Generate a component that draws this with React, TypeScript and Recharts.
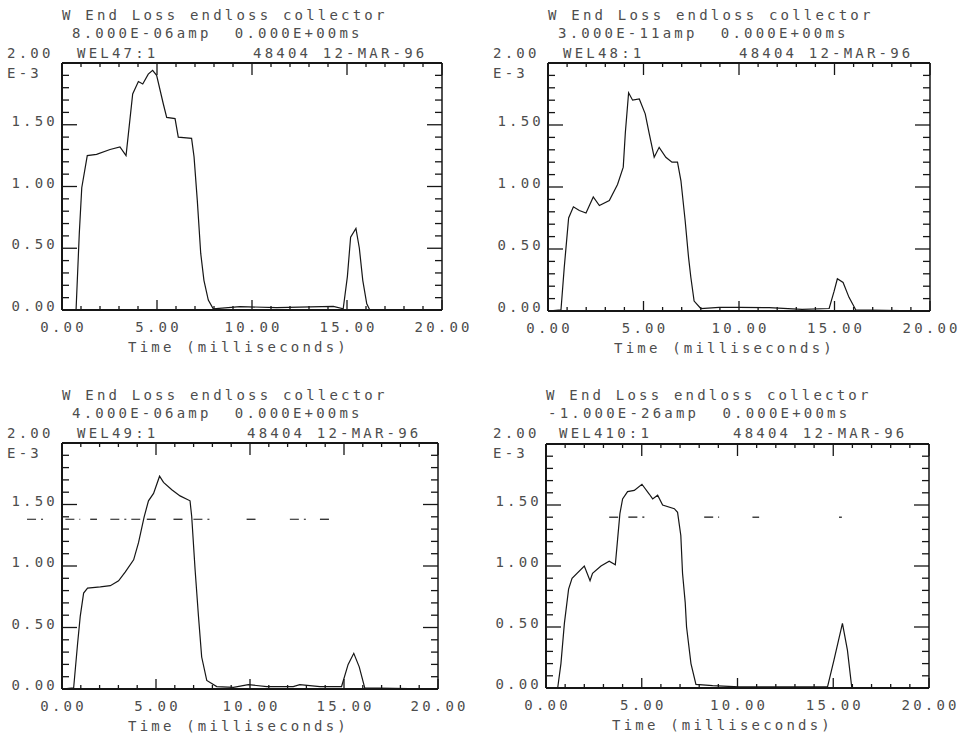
import React from "react";
import { Line, LineChart, ReferenceLine, XAxis, YAxis } from "recharts";

const MONO = "'DejaVu Sans Mono', 'Liberation Mono', monospace";
const INK = "#161616";
const GREY = "#4d4d4d";
const SPACING = 3.2;

// time axis (ms) and current axis (E-3 amp)
const xTicks = [0, 1, 2, 3, 4, 5, 6, 7, 8, 9, 10, 11, 12, 13, 14, 15, 16, 17, 18, 19, 20];
const xLabelTicks = [0, 5, 10, 15, 20];
const yTicks = [
  0, 0.1, 0.2, 0.3, 0.4, 0.5, 0.6, 0.7, 0.8, 0.9, 1, 1.1, 1.2, 1.3, 1.4, 1.5, 1.6, 1.7, 1.8, 1.9, 2,
];
const yLabelTicks = [0, 0.5, 1, 1.5];

// WEL47:1
const wel47Time = [
  0, 0.74, 0.91, 1.04, 1.33, 1.82, 2.53, 3.05, 3.37, 3.49, 3.72, 4.02, 4.25, 4.54, 4.77, 4.98, 5.33,
  5.51, 5.95, 6.12, 6.82, 6.95, 7.12, 7.3, 7.47, 7.7, 7.96, 9.37, 11.3, 14.28, 14.8, 15.02, 15.19,
  15.47, 15.65, 15.83, 16.04, 16.2, 20,
];
const wel47Amp = [
  0, 0, 0.62, 0.99, 1.25, 1.26, 1.3, 1.32, 1.25, 1.42, 1.75, 1.85, 1.83, 1.91, 1.94, 1.9, 1.67, 1.56,
  1.55, 1.4, 1.39, 1.24, 0.89, 0.46, 0.24, 0.08, 0.01, 0.027, 0.02, 0.03, 0.01, 0.27, 0.59, 0.66, 0.5,
  0.24, 0.05, 0, 0,
];

// WEL48:1
const wel48Time = [
  0, 0.68, 0.85, 1.08, 1.33, 1.64, 1.99, 2.37, 2.69, 3.21, 3.64, 3.94, 4.05, 4.22, 4.43, 4.78, 5.09,
  5.3, 5.56, 5.82, 6.17, 6.49, 6.78, 6.96, 7.18, 7.36, 7.48, 7.65, 8.0, 8.96, 10.0, 11.58, 13.3, 14.72,
  14.98, 15.15, 15.45, 15.76, 16.11, 20,
];
const wel48Amp = [
  0, 0.01, 0.35, 0.75, 0.84, 0.81, 0.79, 0.92, 0.85, 0.89, 1.02, 1.16, 1.44, 1.76, 1.7, 1.71, 1.59,
  1.43, 1.24, 1.32, 1.24, 1.2, 1.2, 1.05, 0.73, 0.43, 0.27, 0.08, 0.02, 0.03, 0.03, 0.027, 0.013, 0.02,
  0.16, 0.26, 0.23, 0.11, 0.01, 0,
];

// WEL49:1
const wel49Time = [
  0, 0.62, 0.83, 0.97, 1.15, 1.36, 2.04, 2.57, 3.01, 3.36, 3.81, 4.07, 4.37, 4.6, 4.87, 5.19, 5.4,
  5.84, 6.28, 6.81, 6.9, 7.08, 7.26, 7.43, 7.7, 8.23, 9.12, 9.91, 10.9, 12.3, 12.65, 13.72, 14.87,
  15.22, 15.52, 15.81, 16.1, 20,
];
const wel49Amp = [
  0, 0.01, 0.37, 0.59, 0.78, 0.82, 0.83, 0.84, 0.88, 0.95, 1.05, 1.19, 1.4, 1.53, 1.59, 1.73, 1.68,
  1.62, 1.57, 1.53, 1.4, 0.97, 0.59, 0.26, 0.07, 0.02, 0.014, 0.035, 0.02, 0.02, 0.035, 0.02, 0.02,
  0.2, 0.29, 0.18, 0.01, 0,
];
const wel49GuideLevel = 1.38;
const wel49Guide = [
  [-1.86, -0.88], [0.18, 0.97], [1.5, 1.86], [2.57, 4.16], [4.51, 5.22], [5.93, 6.64],
  [6.99, 7.88], [9.82, 10.53], [12.12, 13.19], [13.72, 14.25],
];

// WEL410:1
const wel410Time = [
  0, 0.61, 0.78, 0.96, 1.18, 1.36, 2.0, 2.3, 2.43, 2.87, 3.3, 3.62, 3.74, 3.86, 4.0, 4.26, 4.61, 5.01,
  5.39, 5.57, 5.83, 6.09, 6.7, 6.87, 7.04, 7.13, 7.27, 7.34, 7.57, 7.83, 8.7, 10.09, 12.52, 14.7,
  15.04, 15.48, 15.74, 15.97, 20,
];
const wel410Amp = [
  0, 0, 0.2, 0.53, 0.81, 0.9, 1.0, 0.88, 0.94, 1.0, 1.04, 1.01, 1.22, 1.43, 1.55, 1.61, 1.62, 1.67,
  1.59, 1.55, 1.58, 1.5, 1.47, 1.44, 1.25, 0.94, 0.7, 0.5, 0.2, 0.03, 0.02, 0.01, 0.01, 0.01, 0.23,
  0.53, 0.31, 0, 0,
];
const wel410GuideLevel = 1.4;
const wel410Guide = [[3.3, 4.0], [4.3, 5.39], [8.26, 9.04], [10.78, 11.13], [15.3, 15.45]];

const textStyle: React.CSSProperties = {
  fontFamily: MONO,
  fontSize: 14,
  fill: GREY,
  letterSpacing: SPACING,
  whiteSpace: "pre",
};

const toRows = (time: number[], amp: number[]) => time.map((t, i) => ({ t, v: amp[i] }));

const isMajorX = (v: number) => v % 5 === 0;
const isMajorY = (v: number) => Math.round(v * 10) % 5 === 0;

// labels only; the tick marks are drawn as reference segments
const BottomLabel = (props: any) => {
  const { x, y, payload } = props;
  const v = payload.value as number;
  return (
    <text x={x + SPACING / 2} y={y + 22} textAnchor="middle" style={textStyle}>
      {v.toFixed(2)}
    </text>
  );
};

const LeftLabel = (props: any) => {
  const { x, y, payload } = props;
  const v = payload.value as number;
  return (
    <text x={x - 4} y={y + 1} textAnchor="end" style={textStyle}>
      {v.toFixed(2)}
    </text>
  );
};

interface PanelProps {
  left: number;
  top: number;
  height: number;
  // plot box inside the panel
  box: { top: number; right: number; bottom: number; left: number };
  row2: string;
  row2X: number;
  channel: string;
  channelX: number;
  stampX: number;
  rows: { t: number; v: number }[];
  guideLevel?: number;
  guide?: number[][];
}

const axisLine = { stroke: INK, strokeWidth: 2 };

const tickSegments = (box: PanelProps["box"]) => {
  const perPxX = 20 / (box.right - box.left);
  const perPxY = 2 / (box.bottom - box.top);
  const out: React.ReactElement[] = [];
  xTicks.forEach((t) => {
    const up = (isMajorX(t) ? 10 : 4) * perPxY;
    const down = (isMajorX(t) ? 12 : 4) * perPxY;
    out.push(
      <ReferenceLine
        key={`xb${t}`}
        xAxisId="b"
        yAxisId="l"
        ifOverflow="visible"
        segment={[{ x: t, y: 0 }, { x: t, y: up }]}
        stroke={INK}
        strokeWidth={1.3}
      />,
      <ReferenceLine
        key={`xt${t}`}
        xAxisId="b"
        yAxisId="l"
        ifOverflow="visible"
        segment={[{ x: t, y: 2 }, { x: t, y: 2 - down }]}
        stroke={INK}
        strokeWidth={1.3}
      />
    );
  });
  yTicks.forEach((v) => {
    const len = (isMajorY(v) ? 15 : 7) * perPxX;
    out.push(
      <ReferenceLine
        key={`yl${v}`}
        xAxisId="b"
        yAxisId="l"
        ifOverflow="visible"
        segment={[{ x: 0, y: v }, { x: len, y: v }]}
        stroke={INK}
        strokeWidth={1.3}
      />,
      <ReferenceLine
        key={`yr${v}`}
        xAxisId="b"
        yAxisId="l"
        ifOverflow="visible"
        segment={[{ x: 20, y: v }, { x: 20 - len, y: v }]}
        stroke={INK}
        strokeWidth={1.3}
      />
    );
  });
  return out;
};

const Panel = (p: PanelProps) => {
  const width = 486;
  // axes are 1px thick bands, so the margins shrink by one
  const margin = {
    top: p.box.top - 1,
    right: width - p.box.right - 1,
    bottom: p.height - p.box.bottom - 1,
    left: p.box.left - 1,
  };
  return (
    <div style={{ position: "absolute", left: p.left, top: p.top, width, height: p.height }}>
      <LineChart width={width} height={p.height} data={p.rows} margin={margin}>
        <XAxis
          xAxisId="b"
          dataKey="t"
          type="number"
          domain={[0, 20]}
          ticks={xLabelTicks}
          interval={0}
          height={1}
          tickSize={0}
          tickMargin={0}
          axisLine={axisLine}
          tickLine={false}
          tick={BottomLabel}
        />
        <XAxis
          xAxisId="t"
          dataKey="t"
          orientation="top"
          type="number"
          domain={[0, 20]}
          height={1}
          axisLine={axisLine}
          tickLine={false}
          tick={false}
        />
        <YAxis
          yAxisId="l"
          type="number"
          domain={[0, 2]}
          ticks={yLabelTicks}
          interval={0}
          width={1}
          tickSize={0}
          tickMargin={0}
          axisLine={axisLine}
          tickLine={false}
          tick={LeftLabel}
        />
        <YAxis
          yAxisId="r"
          orientation="right"
          type="number"
          domain={[0, 2]}
          width={1}
          axisLine={{ stroke: INK, strokeWidth: 1.5 }}
          tickLine={false}
          tick={false}
        />
        {tickSegments(p.box)}
        {(p.guide || []).map(([a, b], i) => (
          <ReferenceLine
            key={`g${i}`}
            xAxisId="b"
            yAxisId="l"
            ifOverflow="visible"
            segment={[
              { x: a, y: p.guideLevel },
              { x: b, y: p.guideLevel },
            ]}
            stroke={INK}
            strokeWidth={1.2}
            strokeDasharray="9 5 2 5"
          />
        ))}
        <Line
          xAxisId="b"
          yAxisId="l"
          dataKey="v"
          type="linear"
          dot={false}
          stroke={INK}
          strokeWidth={1.2}
          isAnimationActive={false}
        />
      </LineChart>
      <svg
        width={width}
        height={p.height}
        style={{ position: "absolute", left: 0, top: 0, pointerEvents: "none" }}
      >
        <text x={p.box.left} y={20} style={textStyle}>
          W End Loss endloss collector
        </text>
        <text x={p.row2X} y={38} style={textStyle}>
          {p.row2}
        </text>
        <text x={7} y={58} style={textStyle}>
          2.00
        </text>
        <text x={p.channelX} y={58} style={textStyle}>
          {p.channel}
        </text>
        <text x={p.stampX} y={58} style={textStyle}>
          48404 12-MAR-96
        </text>
        <text x={7} y={78} style={textStyle}>
          E-3
        </text>
        <text x={p.box.left + 66} y={p.box.bottom + 42} style={textStyle}>
          Time (milliseconds)
        </text>
      </svg>
    </div>
  );
};

export default function App() {
  return (
    <div
      style={{
        position: "absolute",
        left: 0,
        top: 0,
        width: 972,
        height: 738,
        background: "#fff",
        overflow: "hidden",
      }}
    >
      <Panel
        left={0}
        top={0}
        height={369}
        box={{ top: 63, right: 442, bottom: 310, left: 62 }}
        row2="8.000E-06amp  0.000E+00ms"
        row2X={72}
        channel="WEL47:1"
        channelX={77}
        stampX={253}
        rows={toRows(wel47Time, wel47Amp)}
      />
      <Panel
        left={486}
        top={0}
        height={369}
        box={{ top: 63, right: 444, bottom: 311, left: 62 }}
        row2="3.000E-11amp  0.000E+00ms"
        row2X={72}
        channel="WEL48:1"
        channelX={77}
        stampX={253}
        rows={toRows(wel48Time, wel48Amp)}
      />
      <Panel
        left={0}
        top={380}
        height={358}
        box={{ top: 63, right: 438, bottom: 309, left: 62 }}
        row2="4.000E-06amp  0.000E+00ms"
        row2X={72}
        channel="WEL49:1"
        channelX={77}
        stampX={247}
        rows={toRows(wel49Time, wel49Amp)}
        guideLevel={wel49GuideLevel}
        guide={wel49Guide}
      />
      <Panel
        left={486}
        top={380}
        height={358}
        box={{ top: 64, right: 443, bottom: 308, left: 60 }}
        row2="-1.000E-26amp  0.000E+00ms"
        row2X={62}
        channel="WEL410:1"
        channelX={73}
        stampX={247}
        rows={toRows(wel410Time, wel410Amp)}
        guideLevel={wel410GuideLevel}
        guide={wel410Guide}
      />
    </div>
  );
}
